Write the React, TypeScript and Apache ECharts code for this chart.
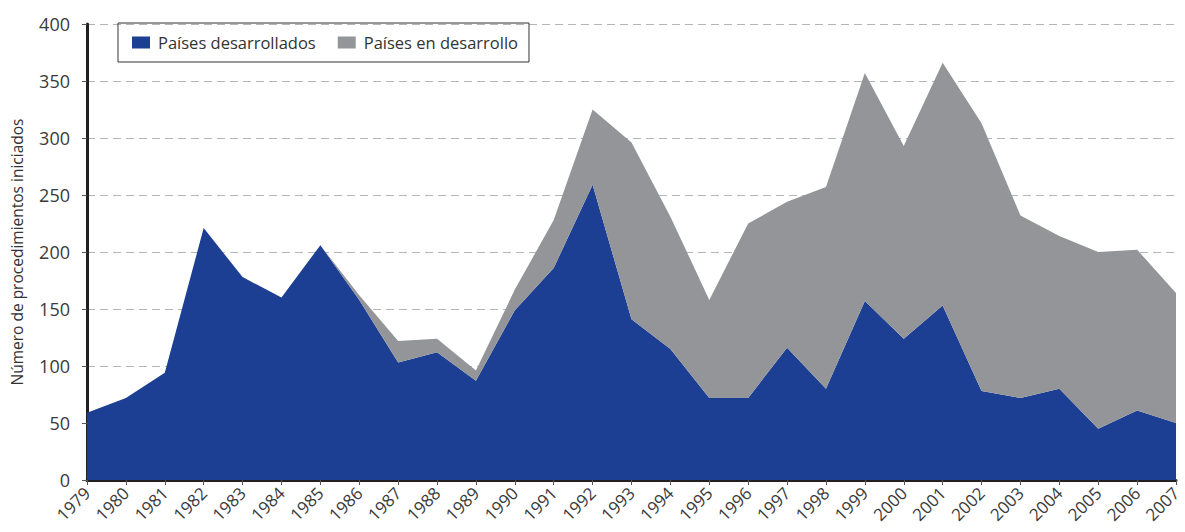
import React, { useEffect, useRef } from "react";
import * as echarts from "echarts";

const years = ["1979","1980","1981","1982","1983","1984","1985","1986","1987","1988","1989","1990","1991","1992","1993","1994","1995","1996","1997","1998","1999","2000","2001","2002","2003","2004","2005","2006","2007"];
const developed = [59,72,94,221,178,160,206,158,103,112,87,149,186,259,141,115,72,72,116,80,157,124,153,78,72,80,45,61,50];
const developing = [0,0,0,0,0,0,0,4,19,12,9,18,42,66,155,116,86,153,128,177,200,169,213,235,160,134,155,141,114];
const yTicks = { min: 0, max: 400, interval: 50 };

export default function App() {
  const ref = useRef<HTMLDivElement>(null);
  useEffect(() => {
    const chart = echarts.init(ref.current!, null, { renderer: "svg" });
    const font = "'Open Sans', 'Noto Sans', sans-serif";
    chart.setOption({
      animation: false,
      textStyle: { fontFamily: font },
      legend: {
        left: 118,
        top: 23,
        icon: "rect",
        itemWidth: 18,
        itemHeight: 12,
        itemGap: 22,
        padding: [11, 11, 11, 14],
        borderColor: "#333",
        borderWidth: 1,
        textStyle: { fontSize: 16.5, lineHeight: 15, color: "#333", fontFamily: font, padding: [0, 0, 0, 3] },
        data: ["Países desarrollados", "Países en desarrollo"],
      },
      grid: { left: 87, right: 9, top: 24, bottom: 52, containLabel: false, outerBoundsMode: "none" },
      xAxis: {
        type: "category",
        data: years,
        boundaryGap: false,
        axisLine: { lineStyle: { color: "#231f20", width: 3 } },
        axisTick: { show: true, length: 5, lineStyle: { color: "#555", width: 1 }, alignWithLabel: true },
        axisLabel: { rotate: 45, fontSize: 17, color: "#3a3a3a", margin: 10, interval: 0, fontFamily: font },
        splitLine: { show: false },
      },
      yAxis: {
        type: "value",
        min: yTicks.min,
        max: yTicks.max,
        interval: yTicks.interval,
        name: "Número de procedimientos iniciados",
        nameLocation: "middle",
        nameGap: 62,
        nameTextStyle: { fontSize: 15.5, color: "#333", fontFamily: font },
        axisLine: { show: true, lineStyle: { color: "#231f20", width: 3 } },
        axisTick: { show: true, length: 5, lineStyle: { color: "#555", width: 1 } },
        axisLabel: { fontSize: 18, color: "#3a3a3a", margin: 17, fontFamily: font },
        splitLine: { show: true, lineStyle: { color: "#b5b5b5", type: [8, 5], width: 1 } },
      },
      series: [
        {
          name: "Países desarrollados",
          type: "line",
          stack: "total",
          data: developed,
          symbol: "none",
          lineStyle: { width: 0 },
          itemStyle: { color: "#1c3f94" },
          areaStyle: { color: "#1c3f94", opacity: 1 },
          z: 3,
        },
        {
          name: "Países en desarrollo",
          type: "line",
          stack: "total",
          data: developing,
          symbol: "none",
          lineStyle: { width: 0 },
          itemStyle: { color: "#939598" },
          areaStyle: { color: "#939598", opacity: 1 },
          z: 3,
        },
      ],
    });
    return () => chart.dispose();
  }, []);
  return <div ref={ref} style={{ width: 1185, height: 532, position: "absolute", left: 0, top: 0 }} />;
}
